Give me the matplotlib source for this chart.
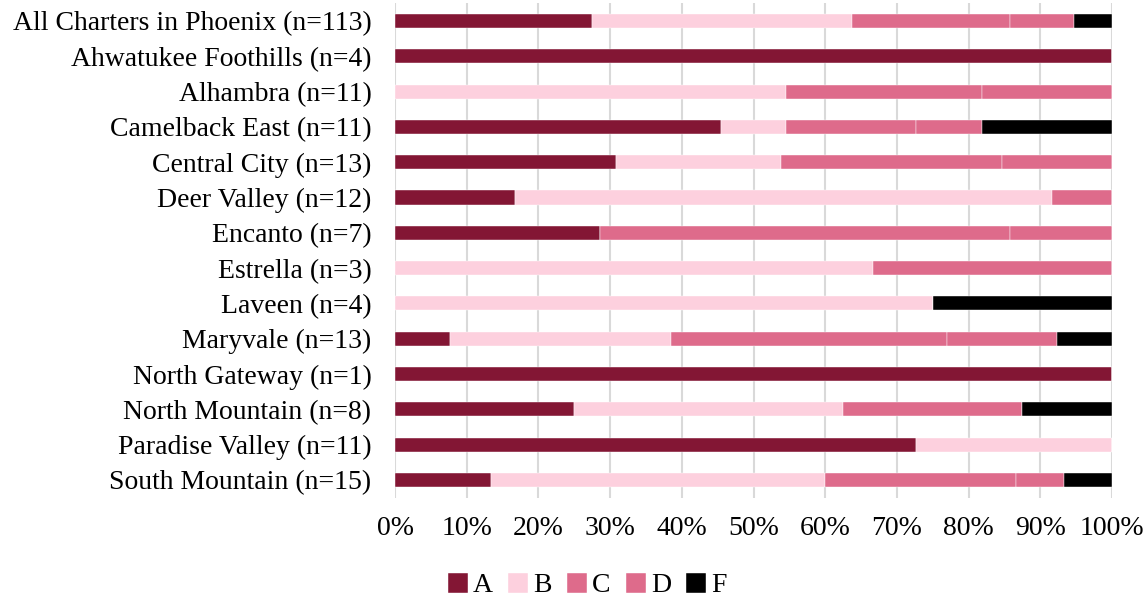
import matplotlib.pyplot as plt, numpy as np

plt.rcParams['font.family'] = ['Liberation Serif', 'DejaVu Serif']

#categories and counts per grade
villages = ['All Charters in Phoenix (n=113)', 'Ahwatukee Foothills (n=4)', 'Alhambra (n=11)',
            'Camelback East (n=11)', 'Central City (n=13)', 'Deer Valley (n=12)', 'Encanto (n=7)',
            'Estrella (n=3)', 'Laveen (n=4)', 'Maryvale (n=13)', 'North Gateway (n=1)',
            'North Mountain (n=8)', 'Paradise Valley (n=11)', 'South Mountain (n=15)']
grades = ['A', 'B', 'C', 'D', 'F']
count_a = [31, 4, 0, 5, 4, 2, 2, 0, 0, 1, 1, 2, 8, 2]
count_b = [41, 0, 6, 1, 3, 9, 0, 2, 3, 4, 0, 3, 3, 7]
count_c = [25, 0, 3, 2, 4, 1, 4, 1, 0, 5, 0, 2, 0, 4]
count_d = [10, 0, 2, 1, 2, 0, 1, 0, 0, 2, 0, 0, 0, 1]
count_f = [6, 0, 0, 2, 0, 0, 0, 0, 1, 1, 0, 1, 0, 1]
colors = ['#831634', '#FDD0DE', '#DE6B8B', '#DE6B8B', '#000000']

counts = np.array([count_a, count_b, count_c, count_d, count_f], dtype=float)
shares = counts / counts.sum(axis=0)

fig = plt.figure(figsize=(11.47, 6), dpi=100)
ax = fig.add_axes([0.3444, 0.1707, 0.6251, 0.8237])

y = np.arange(len(villages))
left = np.zeros(len(villages))
for i in range(len(grades)):
    ax.barh(y, shares[i], left=left, height=0.4, color=colors[i], label=grades[i],
            edgecolor='white', linewidth=0.3, zorder=3)
    left += shares[i]

ax.set_ylim(len(villages) - 0.5, -0.5)
ax.set_xlim(0, 1)
ax.set_yticks(y)
ax.set_yticklabels(villages, fontsize=20)
ax.set_xticks(np.linspace(0, 1, 11))
ax.set_xticklabels(['%d%%' % v for v in range(0, 101, 10)], fontsize=20)
ax.tick_params(length=0)
ax.tick_params(axis='y', pad=17)
ax.tick_params(axis='x', pad=13)
for s in ax.spines.values():
    s.set_visible(False)
ax.grid(axis='x', color='#D9D9D9', linewidth=1.5, zorder=0)
ax.set_axisbelow(True)

#legend at the bottom
handles, labels = ax.get_legend_handles_labels()
fig.legend(handles, labels, loc='center', bbox_to_anchor=(0.512, 0.024), ncol=5, frameon=False,
           fontsize=20, handlelength=0.72, handleheight=0.72, handletextpad=0.18,
           columnspacing=0.55, borderpad=0)

fig.savefig('out.png', dpi=100)
